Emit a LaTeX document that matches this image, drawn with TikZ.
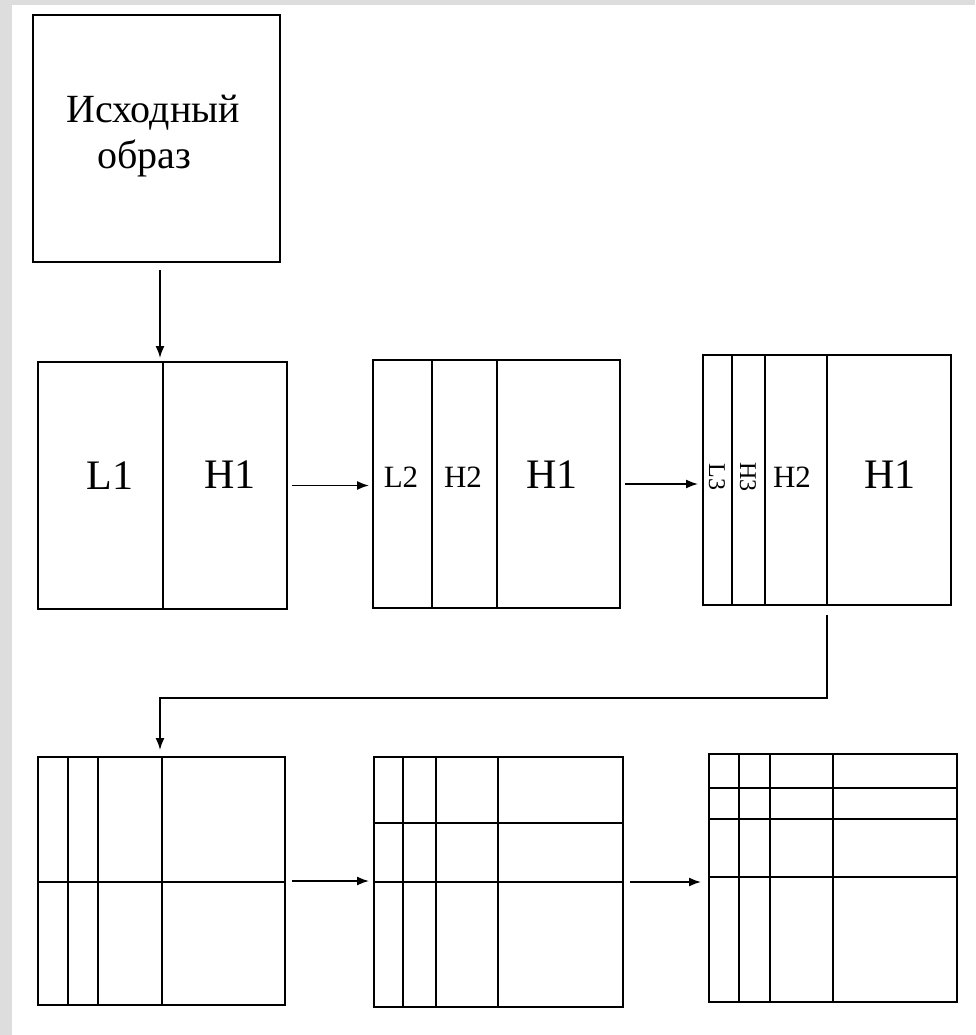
\documentclass[tikz,border=0pt]{standalone}
\usepackage{fontspec}
\setmainfont{Liberation Serif}
\usetikzlibrary{arrows.meta}
\definecolor{pagegray}{RGB}{221,221,221}
\tikzset{
  panel/.style={draw, line width=2.3pt, inner sep=0pt, outer sep=0pt},
  div/.style={line width=2.1pt},
  arr/.style={line width=1.6pt, -{Latex[length=12pt,width=9pt]}},
  big/.style={inner sep=0pt, font=\fontsize{42}{42}\selectfont},
  mid/.style={inner sep=0pt, font=\fontsize{31}{31}\selectfont},
  small/.style={inner sep=0pt, font=\fontsize{24}{24}\selectfont, rotate=-90},
}
\begin{document}
\begin{tikzpicture}[x=1pt,y=-1pt]
% page background with the grey scan margin
\fill[pagegray] (0,0) rectangle (975,1035);
\fill[white] (12,5) rectangle (975,1035);
\useasboundingbox (0,0) rectangle (975,1035);

% source image
\node[panel, minimum width=247pt, minimum height=247pt] (src) at (156.5,138.5) {};
\node[anchor=base, inner sep=0pt, font=\fontsize{40}{40}\selectfont] (t1) at (153,123) {Исходный};
\node[anchor=base, inner sep=0pt, font=\fontsize{40}{40}\selectfont] (t2) at (144,168) {образ};

% first level: L1 | H1
\node[panel, minimum width=249pt, minimum height=247pt] (A) at (162.5,485.5) {};
\draw[div] ([xshift=125pt]A.north west) -- ([xshift=125pt]A.south west);
\node[big] (lA1) at (110,476) {L1};
\node[big] (lA2) at (230,475) {H1};

% second level: L2 | H2 | H1
\node[panel, minimum width=247pt, minimum height=248pt] (B) at (496.5,484) {};
\foreach \d in {59,124}
  \draw[div] ([xshift=\d pt]B.north west) -- ([xshift=\d pt]B.south west);
\node[mid] (lB1) at (401,477) {L2};
\node[mid] (lB2) at (463,477) {H2};
\node[big] (lB3) at (552,475) {H1};

% third level: L3 | H3 | H2 | H1
\node[panel, minimum width=248pt, minimum height=250pt] (C) at (827,480) {};
\foreach \d in {29,62,124}
  \draw[div] ([xshift=\d pt]C.north west) -- ([xshift=\d pt]C.south west);
\node[small] (lC1) at (717,477) {L3};
\node[small] (lC2) at (748,477) {H3};
\node[mid] (lC3) at (792,477) {H2};
\node[big] (lC4) at (890,475) {H1};

% column transform, three levels
\node[panel, minimum width=247pt, minimum height=248pt] (D) at (161.5,881) {};
\foreach \d in {30,60,124}
  \draw[div] ([xshift=\d pt]D.north west) -- ([xshift=\d pt]D.south west);
\draw[div] ([yshift=-125pt]D.north west) -- ([yshift=-125pt]D.north east);

\node[panel, minimum width=249pt, minimum height=250pt] (E) at (498.5,882) {};
\foreach \d in {29,62,124}
  \draw[div] ([xshift=\d pt]E.north west) -- ([xshift=\d pt]E.south west);
\foreach \d in {66,125}
  \draw[div] ([yshift=-\d pt]E.north west) -- ([yshift=-\d pt]E.north east);

\node[panel, minimum width=248pt, minimum height=248pt] (F) at (833,878) {};
\foreach \d in {30,61,124}
  \draw[div] ([xshift=\d pt]F.north west) -- ([xshift=\d pt]F.south west);
\foreach \d in {34,65,123}
  \draw[div] ([yshift=-\d pt]F.north west) -- ([yshift=-\d pt]F.north east);

% connectors
\coordinate (ax) at (160,0);
\coordinate (cx) at (827,0);
\coordinate (elbow) at (0,698);
\draw[arr, shorten <=8pt, shorten >=4pt] (src.south -| ax) -- (A.north -| ax);
\draw[arr, shorten <=5pt, shorten >=4pt] (A.east) -- (A.east -| B.west);
\draw[arr, shorten <=5pt, shorten >=5pt] (B.east) -- (B.east -| C.west);
\draw[arr, shorten <=10pt, shorten >=7pt] (C.south -| cx) -- (elbow -| cx) -- (elbow -| ax) -- (D.north -| ax);
\draw[arr, shorten <=7pt, shorten >=5pt] (D.east) -- (D.east -| E.west);
\draw[arr, shorten <=7pt, shorten >=8pt] (E.east) -- (E.east -| F.west);
\end{tikzpicture}
\end{document}
